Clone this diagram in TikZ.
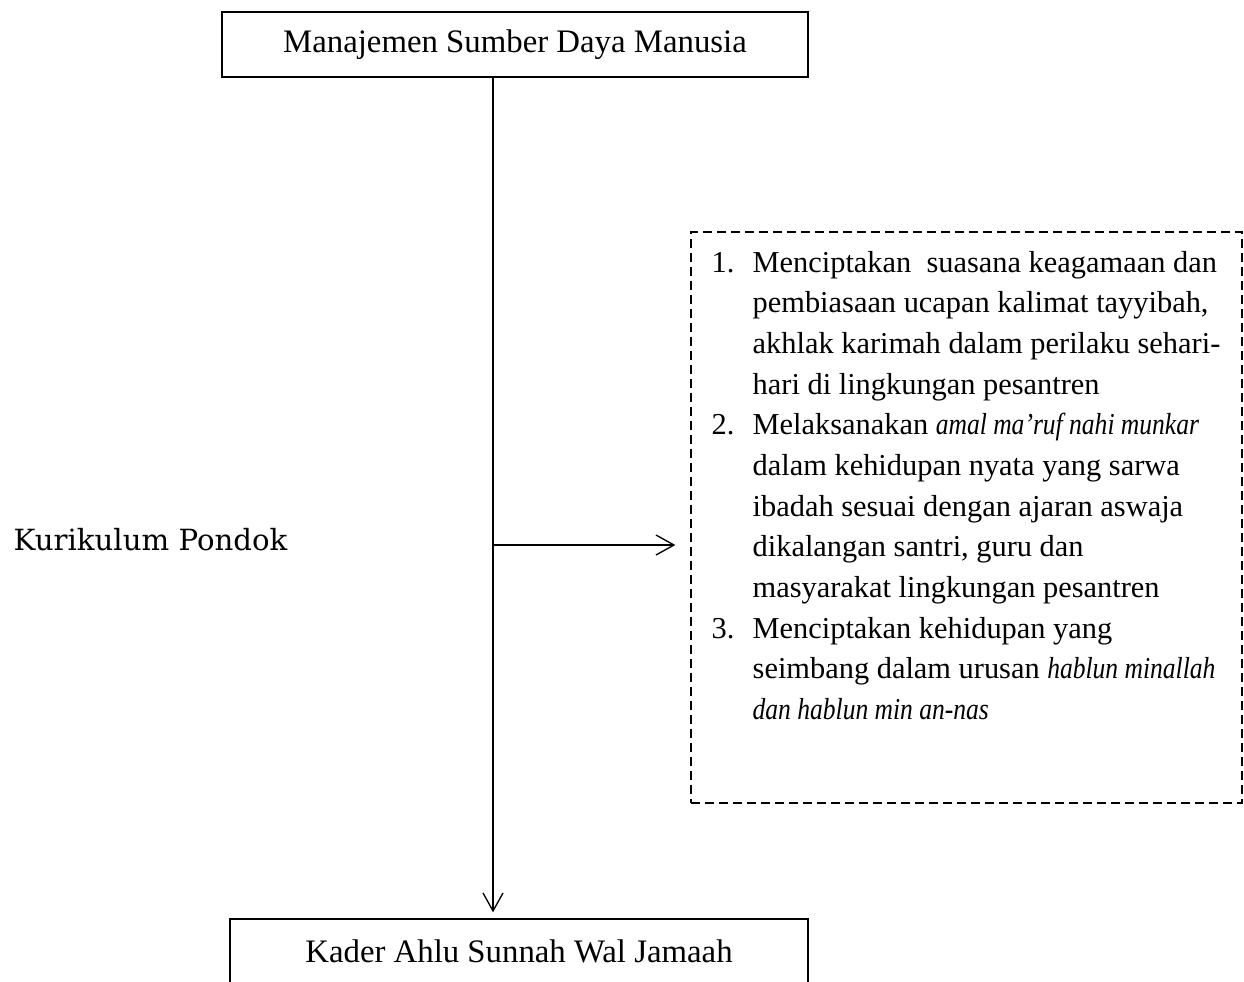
\documentclass[tikz,border=0pt]{standalone}
\usepackage{fontspec}
\setmainfont{Liberation Serif}[ItalicFeatures={FakeStretch=0.84}]
\newfontfamily\labelfont{DejaVu Serif}
\usepackage{array}
\usetikzlibrary{arrows.meta}

\tikzset{every picture/.style={line width=1pt}}
\tikzset{
	boxnode/.style={draw, minimum width=#1, minimum height=48.75pt, inner sep=0pt, font=\fontsize{24.6}{29}\selectfont},
	dashbox/.style={draw, dash pattern=on 6.75pt off 3.75pt, minimum width=413.25pt, minimum height=428.25pt, inner sep=0pt},
	listtext/.style={anchor=base west, inner sep=0pt, font=\fontsize{22.8}{30.5}\selectfont},
	flow/.style={-{Straight Barb[length=13.5pt,width=15pt]}}
}

\begin{document}
\begin{tikzpicture}[x=0.75pt,y=0.75pt,yscale=-1,xscale=1]
	\useasboundingbox (0,0) rectangle (1244,981);
	\clip (0,0) rectangle (1244,981);
	
	% Top box
	\node [boxnode=439.5pt] (msdm) at (515,44.5) {Manajemen Sumber Daya Manusia};
	% Bottom box
	\node [boxnode=433.5pt] (kader) at (519,951.5) {Kader Ahlu Sunnah Wal Jamaah};
	% Dashed box
	\node [dashbox] (program) at (966.5,517.5) {};
	% Text Node
	\node [listtext] (daftar) at (711,272) {\begin{tabular}[t]{@{}p{30.75pt}@{}l@{}}
		1. & Menciptakan\ \ suasana keagamaan dan\\
		   & pembiasaan ucapan kalimat tayyibah,\\
		   & akhlak karimah dalam perilaku sehari-\\
		   & hari di lingkungan pesantren\\
		2. & Melaksanakan \textit{amal ma’ruf nahi munkar}\\
		   & dalam kehidupan nyata yang sarwa\\
		   & ibadah sesuai dengan ajaran aswaja\\
		   & dikalangan santri, guru dan\\
		   & masyarakat lingkungan pesantren\\
		3. & Menciptakan kehidupan yang\\
		   & seimbang dalam urusan \textit{hablun minallah}\\
		   & \textit{dan hablun min an-nas}
	\end{tabular}};
	% Text Node
	\node [anchor=base west, inner sep=0pt, font=\labelfont\fontsize{21.9}{26}\selectfont] (kurikulum) at (13,550) {Kurikulum Pondok};
	
	% Straight Lines
	\coordinate (cabang) at (493,545);
	\draw [flow, shorten >=4.5pt] (msdm.south -| cabang) -- (kader.north -| cabang);
	\draw [flow, shorten >=11.25pt] (cabang) -- (cabang -| program.west);
	
\end{tikzpicture}
\end{document}
